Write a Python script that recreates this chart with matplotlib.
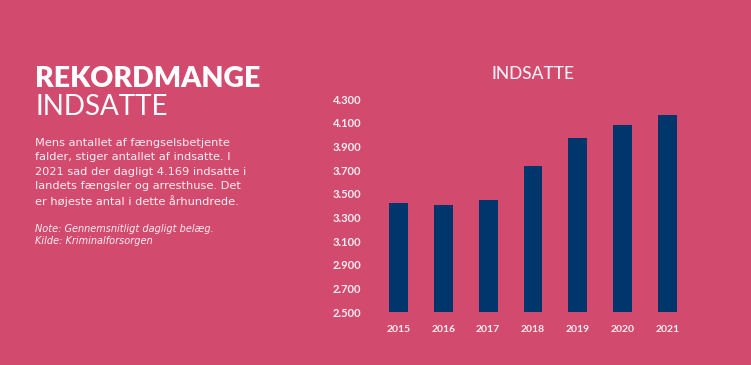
import matplotlib.pyplot as plt

years = ["2015", "2016", "2017", "2018", "2019", "2020", "2021"]
inmates = [3421, 3404, 3446, 3736, 3973, 4083, 4169]
yticks = [2500, 2700, 2900, 3100, 3300, 3500, 3700, 3900, 4100, 4300]
ytick_labels = ["2.500", "2.700", "2.900", "3.100", "3.300", "3.500",
                "3.700", "3.900", "4.100", "4.300"]

bg = "#D24B6F"
bar_color = "#00366B"
txt = "#FCEEF1"

fig = plt.figure(figsize=(7.51, 3.65), dpi=100, facecolor=bg)
ax = fig.add_axes([365 / 751, 1 - 312.3 / 365, 336 / 751, 213 / 365])
ax.set_facecolor(bg)

ax.bar(range(len(years)), inmates, width=0.42, bottom=0, color=bar_color)
ax.set_ylim(2500, 4300)
ax.set_xlim(-0.75, 6.75)
ax.set_yticks(yticks)
ax.set_yticklabels(ytick_labels, ha="left")
ax.set_xticks(range(len(years)))
ax.set_xticklabels(years)
ax.tick_params(axis="y", length=0, pad=23, labelsize=8, labelcolor=txt)
ax.tick_params(axis="x", length=0, pad=9, labelsize=7.5, labelcolor=txt)
for lb in ax.get_xticklabels() + ax.get_yticklabels():
    lb.set_fontfamily("Lato")
    lb.set_fontweight("bold")
for s in ax.spines.values():
    s.set_visible(False)

fig.text(533 / 751, 1 - 74 / 365, "INDSATTE", ha="center", va="center",
         fontsize=12.5, color=txt, family="Lato", fontweight="medium")

fig.text(35 / 751, 1 - 79 / 365, "REKORDMANGE", ha="left", va="center",
         fontsize=20.5, color="white", family="Lato", fontweight="heavy")
fig.text(35 / 751, 1 - 107 / 365, "INDSATTE", ha="left", va="center",
         fontsize=20, color="white", family="Lato", fontweight="normal")

body = ["Mens antallet af fængselsbetjente",
        "falder, stiger antallet af indsatte. I",
        "2021 sad der dagligt 4.169 indsatte i",
        "landets fængsler og arresthuse. Det",
        "er højeste antal i dette århundrede."]
for i, line in enumerate(body):
    fig.text(35 / 751, 1 - (143 + i * 14.5) / 365, line, ha="left", va="center",
             fontsize=8.2, color=txt, family="DejaVu Sans")

notes = ["Note: Gennemsnitligt dagligt belæg.", "Kilde: Kriminalforsorgen"]
for i, line in enumerate(notes):
    fig.text(35 / 751, 1 - (229 + i * 12) / 365, line, ha="left", va="center",
             fontsize=7.0, color=txt, family="DejaVu Sans", style="italic")

fig.savefig("out.png", dpi=100, facecolor=bg)
